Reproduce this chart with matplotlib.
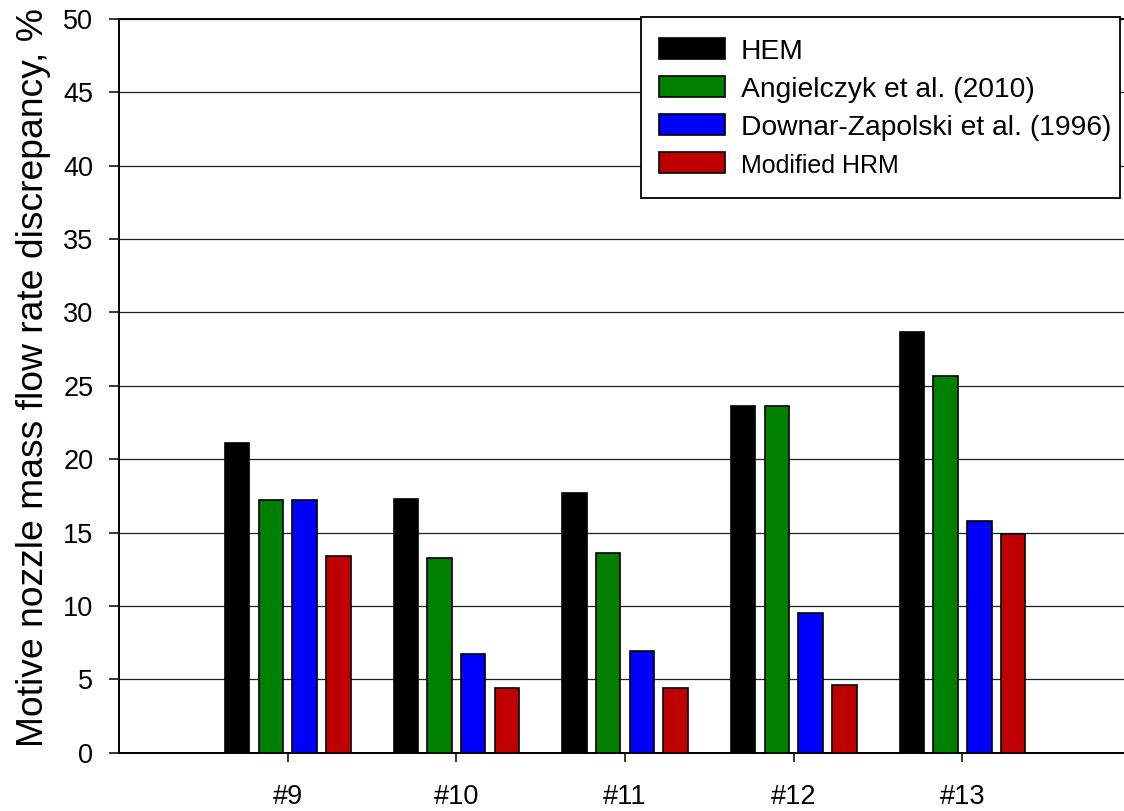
import numpy as np
import matplotlib
matplotlib.use('Agg')
import matplotlib.pyplot as plt
from matplotlib.patches import Rectangle

plt.rcParams['font.family'] = ['Liberation Sans', 'DejaVu Sans']

cases = ['#9', '#10', '#11', '#12', '#13']
hem = [21.1, 17.3, 17.7, 23.6, 28.7]
angielczyk = [17.2, 13.3, 13.6, 23.6, 25.7]
downar = [17.2, 6.7, 6.9, 9.5, 15.8]
modified_hrm = [13.4, 4.4, 4.4, 4.6, 14.9]

series = [hem, angielczyk, downar, modified_hrm]
names = ['HEM', 'Angielczyk et al. (2010)', 'Downar-Zapolski et al. (1996)', 'Modified HRM']
colors = ['#000000', '#008000', '#0000ff', '#c00000']

W, H = 1124, 811
fig = plt.figure(figsize=(W / 100, H / 100), dpi=100)
ax = fig.add_axes([0.1059, 0.0719, 0.9004, 0.9047])

x = np.arange(1, len(cases) + 1)
offsets = [-0.3, -0.1, 0.1, 0.3]
width = 0.145
for vals, off, c, name in zip(series, offsets, colors, names):
    ax.bar(x + off, vals, width, color=c, edgecolor='black', linewidth=1.2,
           label=name, zorder=3)

ax.set_xlim(0, 6)
ax.set_ylim(0, 50)
ax.set_yticks(np.arange(0, 51, 5))
ax.set_xticks(x)
ax.set_xticklabels(cases)
ax.yaxis.grid(True, color='#202020', linewidth=0.9, zorder=0)
ax.set_axisbelow(True)

for s in ['left', 'bottom', 'top']:
    ax.spines[s].set_linewidth(1.4)
ax.spines['right'].set_visible(False)

ax.tick_params(axis='y', direction='out', length=7.5, width=1.1,
               labelsize=19.5, pad=11)
ax.tick_params(axis='x', direction='out', length=6.5, width=1.1,
               labelsize=19.5, pad=16)
ax.set_ylabel('Motive nozzle mass flow rate discrepancy, %', fontsize=26.8,
              labelpad=9)
ax.yaxis.label.set_y(0.512)

# legend box drawn separately so the padding can be taller than wide
box = Rectangle((641 / W, 1 - 198 / H), (1120 - 641) / W, (198 - 17) / H,
                transform=fig.transFigure, facecolor='white', edgecolor='black',
                linewidth=1.3, zorder=4, clip_on=False)
ax.add_patch(box)

leg = ax.legend(loc='center', bbox_to_anchor=(885 / W, 1 - 108 / H),
                bbox_transform=fig.transFigure, fontsize=20.3, frameon=False,
                handlelength=2.35, handleheight=0.75, handletextpad=0.58,
                labelspacing=0.42, borderpad=0, borderaxespad=0)
leg.set_zorder(5)
leg.get_texts()[3].set_fontsize(18)

fig.savefig('out.png', dpi=100)
